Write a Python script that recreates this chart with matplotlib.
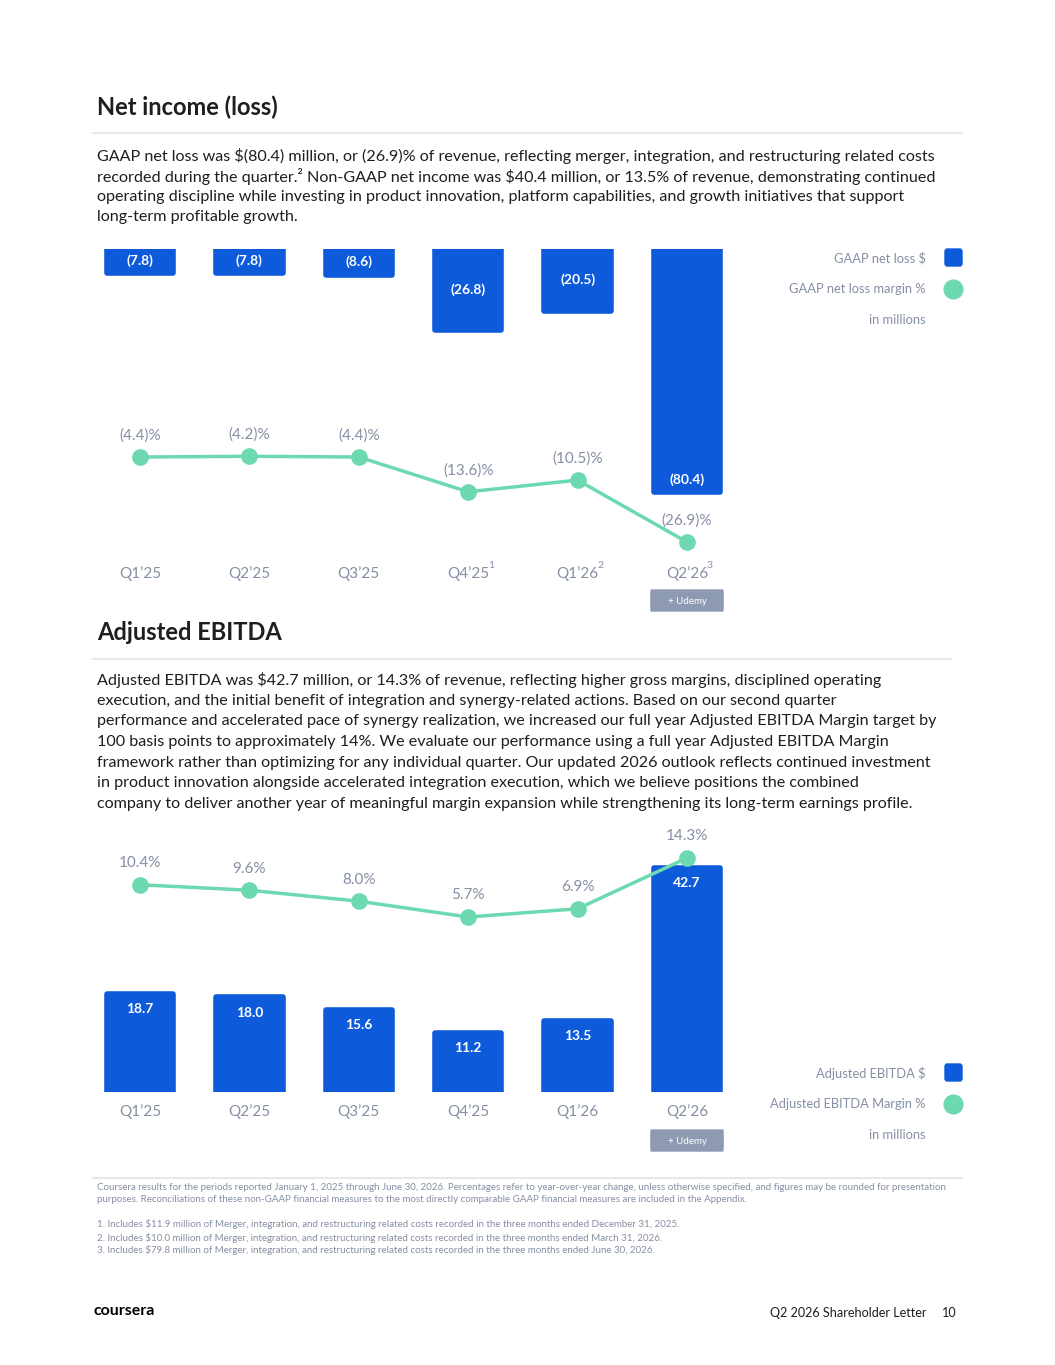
import matplotlib
matplotlib.use("Agg")
import matplotlib.pyplot as plt
from matplotlib.patches import FancyBboxPatch
from matplotlib.transforms import blended_transform_factory
import numpy as np

# ---------------- data ----------------
quarters = ["Q1\u201925", "Q2\u201925", "Q3\u201925", "Q4\u201925", "Q1\u201926", "Q2\u201926"]
net_loss_footnotes = ["", "", "", "1", "2", "3"]
gaap_net_loss = [-7.8, -7.8, -8.6, -26.8, -20.5, -80.4]
gaap_net_loss_margin = [-4.4, -4.2, -4.4, -13.6, -10.5, -26.9]
adj_ebitda = [18.7, 18.0, 15.6, 11.2, 13.5, 42.7]
adj_ebitda_margin = [10.4, 9.6, 8.0, 5.7, 6.9, 14.3]

title1 = "Net income (loss)"
body1 = [
    "GAAP net loss was \\$(80.4) million, or (26.9)% of revenue, reflecting merger, integration, and restructuring related costs",
    "recorded during the quarter.\u00b2 Non-GAAP net income was \\$40.4 million, or 13.5% of revenue, demonstrating continued",
    "operating discipline while investing in product innovation, platform capabilities, and growth initiatives that support",
    "long-term profitable growth.",
]
title2 = "Adjusted EBITDA"
body2 = [
    "Adjusted EBITDA was \\$42.7 million, or 14.3% of revenue, reflecting higher gross margins, disciplined operating",
    "execution, and the initial benefit of integration and synergy-related actions. Based on our second quarter",
    "performance and accelerated pace of synergy realization, we increased our full year Adjusted EBITDA Margin target by",
    "100 basis points to approximately 14%. We evaluate our performance using a full year Adjusted EBITDA Margin",
    "framework rather than optimizing for any individual quarter. Our updated 2026 outlook reflects continued investment",
    "in product innovation alongside accelerated integration execution, which we believe positions the combined",
    "company to deliver another year of meaningful margin expansion while strengthening its long-term earnings profile.",
]
legend1 = ["GAAP net loss \\$", "GAAP net loss margin %", "in millions"]
legend2 = ["Adjusted EBITDA \\$", "Adjusted EBITDA Margin %", "in millions"]
footnotes = [
    "Coursera results for the periods reported January 1, 2025 through June 30, 2026. Percentages refer to year-over-year change, unless otherwise specified, and figures may be rounded for presentation",
    "purposes. Reconciliations of these non-GAAP financial measures to the most directly comparable GAAP financial measures are included in the Appendix.",
    "1. Includes \\$11.9 million of Merger, integration, and restructuring related costs recorded in the three months ended December 31, 2025.",
    "2. Includes \\$10.0 million of Merger, integration, and restructuring related costs recorded in the three months ended March 31, 2026.",
    "3. Includes \\$79.8 million of Merger, integration, and restructuring related costs recorded in the three months ended June 30, 2026.",
]

# ---------------- style ----------------
W, H = 1055, 1365
BLUE = "#0D5ADB"
MINT = "#6DD9B1"
GRAY = "#858FA3"
DARK = "#1E1E1E"
RULE = "#E6E8EC"
UDEMY = "#8D9AB1"
plt.rcParams["font.family"] = ["Lato", "DejaVu Sans"]

fig = plt.figure(figsize=(W / 100, H / 100), dpi=100)
fig.patch.set_facecolor("white")

BAR_LW = 4            # points; rounded joins give rounded corners
OUT = BAR_LW * 100 / 72 / 2   # px the stroke extends beyond the bar
BAR_W = (72 - 2 * OUT) / 109.4


def fx(px):
    return px / W


def fy(py):
    return 1 - py / H


def ftext(x, y, s, **kw):
    kw.setdefault("va", "center")
    fig.text(fx(x), fy(y), s, **kw)


def hrule(x0, x1, y):
    fig.add_artist(plt.Line2D([fx(x0), fx(x1)], [fy(y), fy(y)], color=RULE, lw=1.5,
                              transform=fig.transFigure))


def place_axes(top, bottom):
    left, right = 85.3, 741.7
    ax = fig.add_axes([fx(left), fy(bottom), (right - left) / W, (bottom - top) / H])
    ax.set_xlim(-0.5, 5.5)
    ax.axis("off")
    return ax


def legend(items, y0):
    ys = [y0, y0 + 31, y0 + 62]
    for yy, s in zip(ys, items):
        ftext(926, yy, s, ha="right", color=GRAY, fontsize=9.3)
    fig.add_artist(FancyBboxPatch((fx(945), fy(ys[0] + 8)), fx(17), 17 / H,
                                  boxstyle="round,pad=0,rounding_size=0.002",
                                  transform=fig.transFigure, color=BLUE))
    fig.add_artist(plt.Line2D([fx(953)], [fy(ys[1])], marker="o", markersize=13.5,
                              color=MINT, transform=fig.transFigure))


def udemy_box(ax, y_top):
    x_center = 5
    trans = blended_transform_factory(ax.transData, fig.transFigure)
    bw = 0.66
    box = FancyBboxPatch((x_center - bw / 2, fy(y_top + 21)), bw, 21 / H,
                         boxstyle="round,pad=0,rounding_size=0.004",
                         transform=trans, color=UDEMY, clip_on=False)
    ax.add_artist(box)
    ax.text(x_center, fy(y_top + 11), "+ Udemy", transform=trans, ha="center",
            va="center", color="white", fontsize=7, clip_on=False)


def xlabels(ax, y_px, sups=None):
    trans = blended_transform_factory(ax.transData, fig.transFigure)
    for i, q in enumerate(quarters):
        ax.text(i, fy(y_px), q, transform=trans, ha="center", va="center",
                color=GRAY, fontsize=11)
        if sups and sups[i]:
            ax.text(i + 0.21, fy(y_px - 9), sups[i], transform=trans, ha="center",
                    va="center", color=GRAY, fontsize=7.5)


# ---------------- header section 1 ----------------
ftext(97, 107, title1, fontsize=17, fontweight="bold", color=DARK)
hrule(93, 962, 133)
for i, line in enumerate(body1):
    ftext(97, 156 + i * 20.5, line, fontsize=11.65, color=DARK)

# ---------------- chart 1 ----------------
x = np.arange(len(quarters))
s1 = (246 - OUT) / 80.4
axb = place_axes(249, 560)
axb.set_ylim(-(560 - 249) / s1, 0)
axb.bar(x, gaap_net_loss, width=BAR_W, color=BLUE, edgecolor=BLUE,
        linewidth=BAR_LW, joinstyle="round", zorder=1)
for xi, v in zip(x, gaap_net_loss):
    ypos = v + 13 / s1 if abs(v) > 50 else v / 2
    axb.text(xi, ypos, f"({abs(v):.1f})", ha="center", va="center", color="white",
             fontsize=10, fontweight="bold", zorder=3)
axl = fig.add_axes(axb.get_position(), sharex=axb)
axl.axis("off")
axl.set_ylim(-(560 - 440.4) / 3.78, (440.4 - 249) / 3.78)
axl.plot(x, gaap_net_loss_margin, color=MINT, lw=2.5, marker="o", markersize=11,
         zorder=4, clip_on=False)
for xi, v in zip(x, gaap_net_loss_margin):
    axl.annotate(f"({abs(v):.1f})%", (xi, v), xytext=(0, 15.5), textcoords="offset points",
                 ha="center", va="center", color=GRAY, fontsize=11)
xlabels(axb, 574, net_loss_footnotes)
udemy_box(axb, 590)
legend(legend1, 258)

# ---------------- header section 2 ----------------
ftext(97, 632, title2, fontsize=17, fontweight="bold", color=DARK)
hrule(93, 951, 659)
for i, line in enumerate(body2):
    ftext(97, 680 + i * 20.7, line, fontsize=11.65, color=DARK)

# ---------------- chart 2 ----------------
s2 = (227 - OUT) / 42.7
axb2 = place_axes(840, 1092)
axb2.set_ylim(0, (1092 - 840) / s2)
axb2.bar(x, adj_ebitda, width=BAR_W, color=BLUE, edgecolor=BLUE,
         linewidth=BAR_LW, joinstyle="round", zorder=1)
for xi, v in zip(x, adj_ebitda):
    axb2.annotate(f"{v:.1f}", (xi, v), xytext=(0, -11), textcoords="offset points",
                  ha="center", va="center", color="white", fontsize=10,
                  fontweight="bold", zorder=3)
axl2 = fig.add_axes(axb2.get_position(), sharex=axb2)
axl2.axis("off")
axl2.set_ylim(-(1092 - 956.1) / 6.86, (956.1 - 840) / 6.86)
axl2.plot(x, adj_ebitda_margin, color=MINT, lw=2.5, marker="o", markersize=11,
          zorder=4, clip_on=False)
for xi, v in zip(x, adj_ebitda_margin):
    axl2.annotate(f"{v:.1f}%", (xi, v), xytext=(0, 15.5), textcoords="offset points",
                  ha="center", va="center", color=GRAY, fontsize=11)
xlabels(axb2, 1112)
udemy_box(axb2, 1130)
legend(legend2, 1073)

# ---------------- footnotes / footer ----------------
hrule(93, 962, 1178)
fn_y = [1188, 1200, 1224, 1238, 1250]
for yy, s in zip(fn_y, footnotes):
    ftext(97, yy, s, fontsize=7.0, color=GRAY)
ftext(93, 1311, "coursera", fontsize=11.5, fontweight="bold", color="black")
ftext(926, 1313, "Q2 2026 Shareholder Letter", ha="right", fontsize=9.1, color=DARK)
ftext(957, 1313, "10", ha="right", fontsize=9.1, color=DARK)

fig.savefig("out.png", dpi=100, facecolor="white")
